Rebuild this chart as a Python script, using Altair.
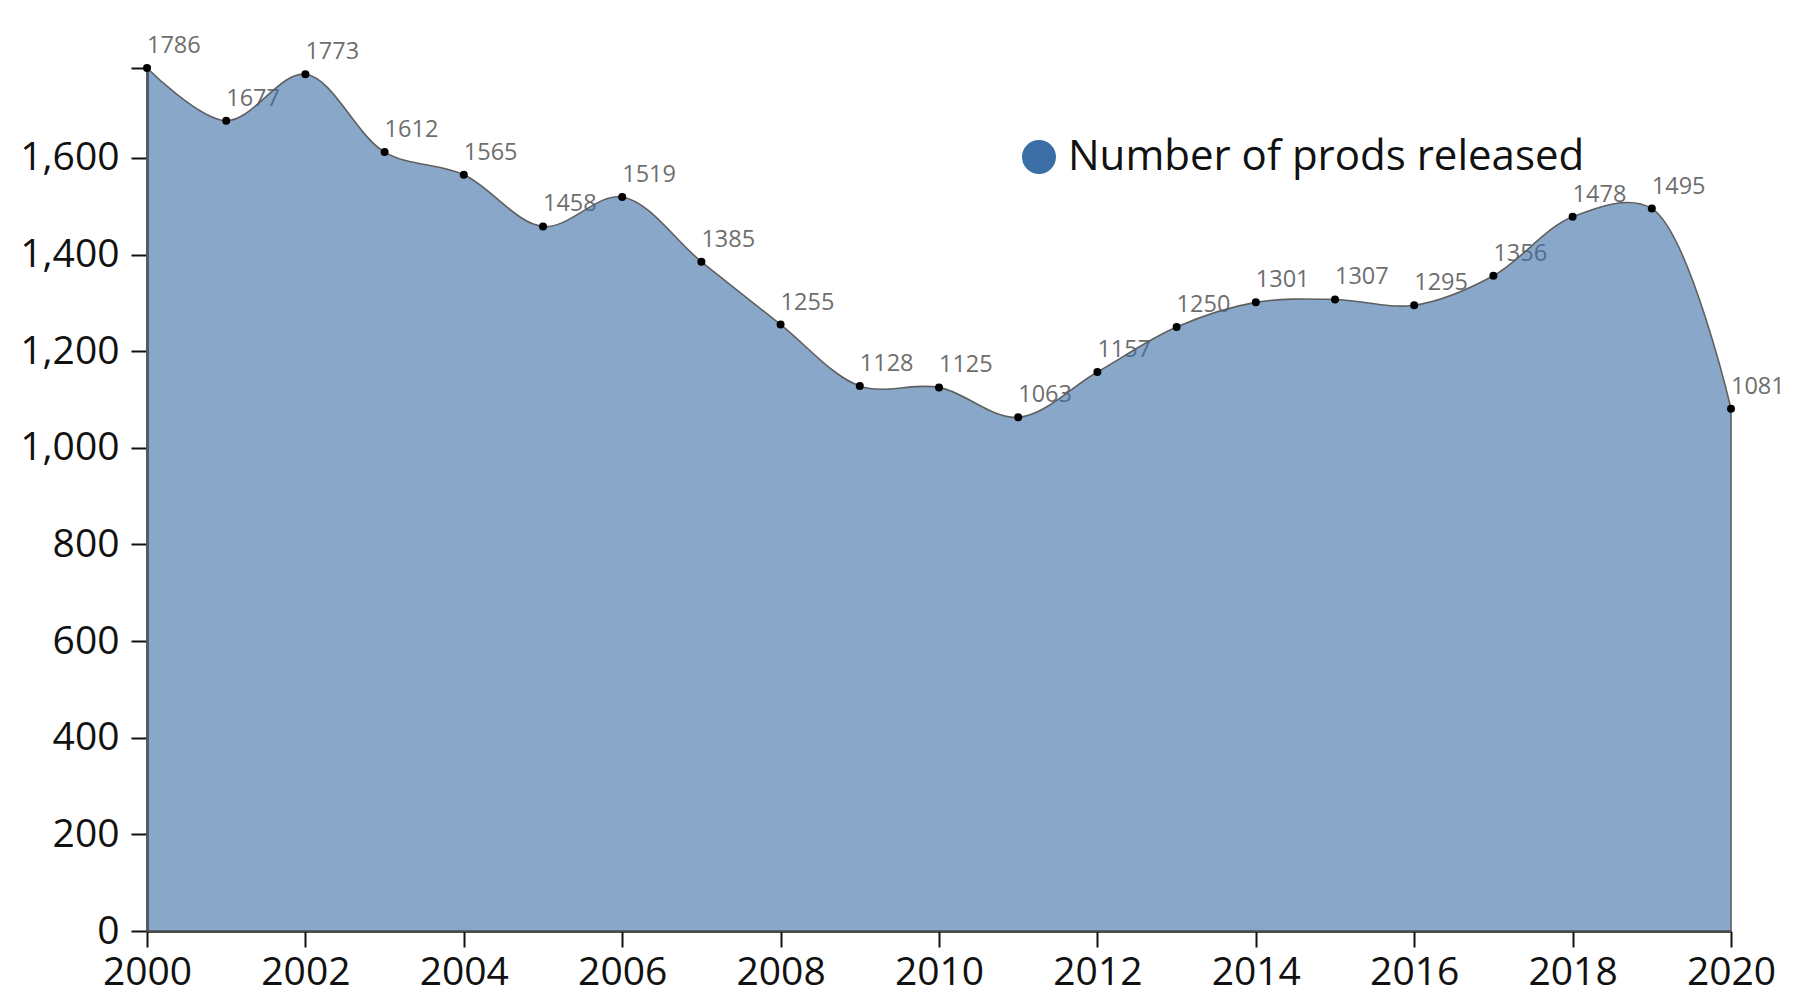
import altair as alt
import pandas as pd

years = list(range(2000, 2021))
prods = [1786, 1677, 1773, 1612, 1565, 1458, 1519, 1385, 1255, 1128, 1125,
         1063, 1157, 1250, 1301, 1307, 1295, 1356, 1478, 1495, 1081]
series_name = "Number of prods released"
y_ticks = [0, 200, 400, 600, 800, 1000, 1200, 1400, 1600, 1786]
x_ticks = list(range(2000, 2021, 2))

df = pd.DataFrame({"year": years, "prods": prods, "series": [series_name] * len(years)})

FONT = "Open Sans"

x_enc = alt.X("year:Q", scale=alt.Scale(domain=[2000, 2020], nice=False, zero=False),
              axis=alt.Axis(values=x_ticks, format="d", title=None, grid=False,
                            labelFontSize=39, labelColor="#111", labelFont=FONT,
                            tickSize=16, tickWidth=2, tickColor="#111",
                            domainColor="#111", domainWidth=2.5,
                            labelPadding=6, labelFlush=False))
y_enc = alt.Y("prods:Q", scale=alt.Scale(domain=[0, 1786], nice=False),
              axis=alt.Axis(values=y_ticks, title=None, grid=False,
                            labelExpr="datum.value == 1786 ? '' : format(datum.value, ',')",
                            labelFontSize=39, labelColor="#111", labelFont=FONT,
                            tickSize=16, tickWidth=2, tickColor="#111",
                            domainColor="#111", domainWidth=2.5,
                            labelPadding=12, minExtent=139, maxExtent=139))

base = alt.Chart(df)

labels = base.mark_text(align="left", baseline="alphabetic", dx=0, dy=-15,
                        fontSize=23.5, color="#6e6e6e", font=FONT).encode(
    x=x_enc, y=y_enc, text="prods:Q")

area = base.mark_area(interpolate="catmull-rom", fillOpacity=0.6, stroke="#5f5f5f",
                      strokeWidth=1.6).encode(
    x=x_enc, y=y_enc,
    color=alt.Color("series:N", scale=alt.Scale(range=["#3a6ea5"]),
                    legend=alt.Legend(title=None, orient="none", legendX=871, legendY=68,
                                      symbolType="circle", symbolSize=1156,
                                      symbolOpacity=1, symbolStrokeWidth=0,
                                      symbolFillColor="#3a6ea5",
                                      labelFontSize=42, labelFont=FONT, labelColor="#111",
                                      labelOffset=8, padding=0, labelLimit=800)))

points = base.mark_point(filled=True, shape="circle", size=64, color="#000", opacity=1).encode(
    x=x_enc, y=y_enc)

chart = alt.layer(labels, area, points).properties(
    width=1584, height=863,
    autosize=alt.AutoSizeParams(type="none"),
    padding={"left": 139, "top": 60, "right": 54, "bottom": 70},
).configure_view(stroke=None)

chart.save("out.html", embed_options={"renderer": "svg", "actions": False})
